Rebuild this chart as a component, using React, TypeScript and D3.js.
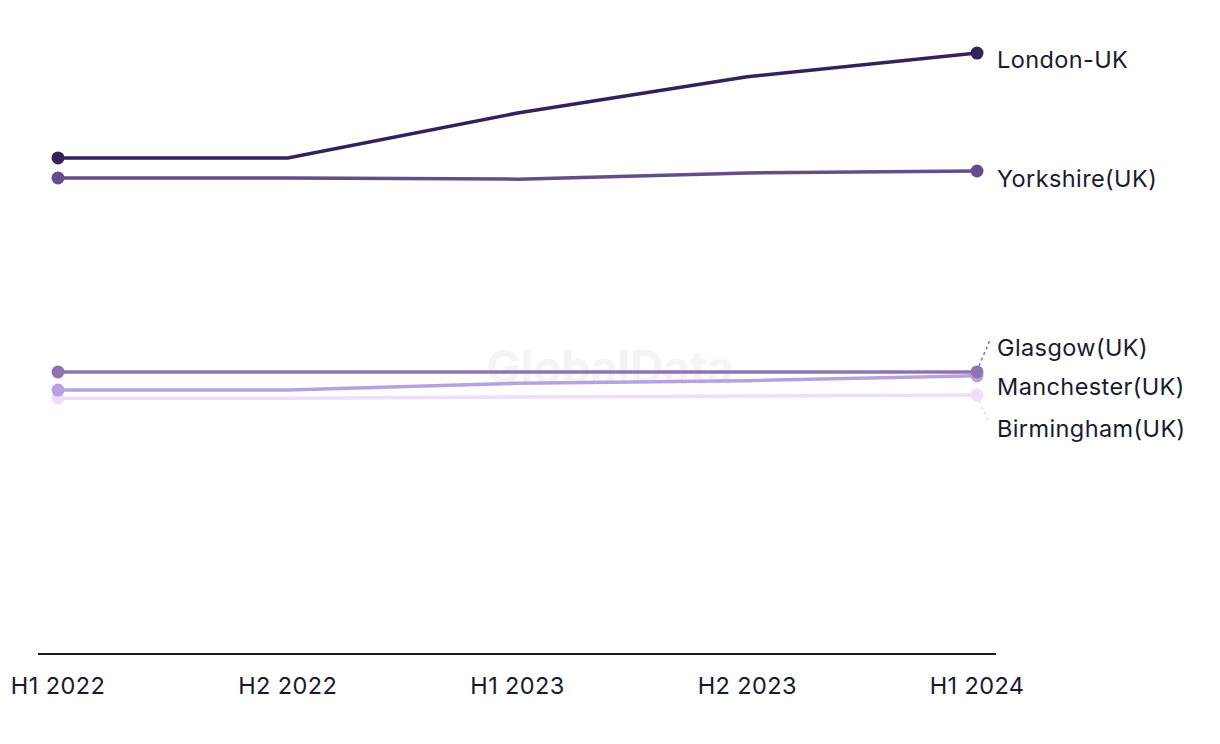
import React from "react";
import * as d3 from "d3";

const categories = ["H1 2022", "H2 2022", "H1 2023", "H2 2023", "H1 2024"];
const seriesNames = ["London-UK", "Yorkshire(UK)", "Glasgow(UK)", "Manchester(UK)", "Birmingham(UK)"];
const london = [79.5, 79.5, 86.7, 92.5, 96.3];
const yorkshire = [76.3, 76.3, 76.1, 77.1, 77.4];
const glasgow = [45.2, 45.2, 45.2, 45.2, 45.2];
const manchester = [42.3, 42.3, 43.4, 43.8, 44.6];
const birmingham = [41.0, 41.0, 41.2, 41.35, 41.5];
const colors = ["#33215a", "#634d8a", "#8e73b3", "#b9a1df", "#f0dcfc"];
// label centre offsets (px) relative to the last point, to avoid overlap
const labelOffsets = [6, 7, -24, 11, 33];

const W = 1220;
const H = 744;

export default function App() {
  const data = [london, yorkshire, glasgow, manchester, birmingham];
  const x = d3.scalePoint<string>().domain(categories).range([58, 977]);
  const y = d3.scaleLinear().domain([0, 100]).range([654, 30]);
  const line = d3
    .line<number>()
    .x((_, i) => x(categories[i]) as number)
    .y((d) => y(d));
  const font = "Inter, 'Open Sans', sans-serif";
  const order = [4, 3, 2, 1, 0];
  return (
    <svg
      width={W}
      height={H}
      style={{ position: "absolute", left: 0, top: 0, background: "#fff" }}
      fontFamily={font}
    >
      <text
        x={610}
        y={384}
        textAnchor="middle"
        fontSize={46}
        fontWeight={700}
        fill="#f4f4f4"
      >
        GlobalData
      </text>
      <line x1={38} x2={996} y1={654} y2={654} stroke="#1a1a2e" strokeWidth={2} />
      {categories.map((c) => (
        <text
          key={c}
          x={x(c)}
          y={694}
          textAnchor="middle"
          fontSize={23.5}
          letterSpacing={0.4}
          fill="#1a1a2e"
        >
          {c}
        </text>
      ))}
      {order.map((si) => {
        const vals = data[si];
        return (
          <g key={si}>
            <path d={line(vals) || ""} fill="none" stroke={colors[si]} strokeWidth={3.5} />
            <circle cx={x(categories[0])} cy={y(vals[0])} r={6.5} fill={colors[si]} />
            <circle
              cx={x(categories[categories.length - 1])}
              cy={y(vals[vals.length - 1])}
              r={6.5}
              fill={colors[si]}
            />
          </g>
        );
      })}
      {data.map((vals, si) => {
        const lx = x(categories[categories.length - 1]) as number;
        const ly = y(vals[vals.length - 1]);
        const cy = ly + labelOffsets[si];
        const up = labelOffsets[si] < 0;
        const needsConnector = Math.abs(labelOffsets[si]) > 15;
        return (
          <g key={"l" + si}>
            {needsConnector && (
              <line
                x1={lx + 2}
                y1={ly + (up ? -6 : 6)}
                x2={lx + (up ? 13 : 11)}
                y2={cy - 8}
                stroke={colors[si]}
                strokeWidth={1.5}
                strokeDasharray="3,3"
              />
            )}
            <text x={lx + 20} y={cy + 8.5} fontSize={23.5} letterSpacing={0.4} fill="#1a1a2e">
              {seriesNames[si]}
            </text>
          </g>
        );
      })}
    </svg>
  );
}
